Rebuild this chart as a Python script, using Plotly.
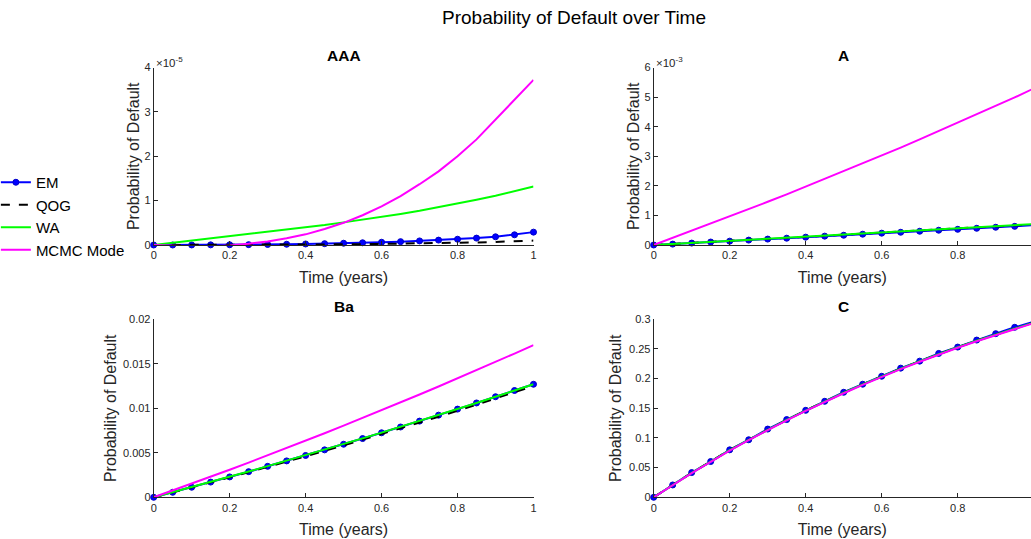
import plotly.graph_objects as go

t = [0.0, 0.05, 0.1, 0.15, 0.2, 0.25, 0.3, 0.35, 0.4, 0.45, 0.5,
     0.55, 0.6, 0.65, 0.7, 0.75, 0.8, 0.85, 0.9, 0.95, 1.0]

# AAA (x 1e-5)
aaa_em = [0, 0.0, 0.001, 0.003, 0.005, 0.008, 0.012, 0.017, 0.023, 0.03, 0.04,
          0.05, 0.062, 0.076, 0.092, 0.11, 0.13, 0.155, 0.185, 0.23, 0.29]
aaa_qog = [0, 0.0, 0.0, 0.001, 0.002, 0.003, 0.005, 0.007, 0.009, 0.012, 0.015,
           0.019, 0.023, 0.028, 0.034, 0.041, 0.049, 0.058, 0.069, 0.083, 0.10]
aaa_wa = [0, 0.05, 0.10, 0.15, 0.19, 0.24, 0.29, 0.34, 0.40, 0.45, 0.51,
          0.57, 0.63, 0.70, 0.77, 0.85, 0.93, 1.02, 1.11, 1.21, 1.32]
aaa_mcmc = [0, -0.02, -0.03, -0.03, -0.01, 0.03, 0.08, 0.15, 0.24, 0.36, 0.50,
            0.67, 0.87, 1.10, 1.37, 1.66, 2.00, 2.38, 2.82, 3.27, 3.72]

# A (x 1e-3)
a_em = [0, 0.03, 0.065, 0.10, 0.13, 0.165, 0.20, 0.23, 0.265, 0.30, 0.33,
        0.365, 0.40, 0.43, 0.465, 0.50, 0.53, 0.565, 0.60, 0.63, 0.67]
a_qog = [0, 0.034, 0.068, 0.10, 0.135, 0.17, 0.205, 0.24, 0.275, 0.31, 0.345,
         0.38, 0.415, 0.45, 0.485, 0.52, 0.555, 0.59, 0.625, 0.66, 0.70]
a_wa = [0, 0.034, 0.068, 0.103, 0.137, 0.172, 0.207, 0.242, 0.277, 0.312, 0.347,
        0.382, 0.417, 0.452, 0.488, 0.524, 0.56, 0.596, 0.632, 0.668, 0.705]
a_mcmc = [0, 0.24, 0.48, 0.72, 0.97, 1.21, 1.46, 1.71, 1.97, 2.23, 2.49,
          2.76, 3.02, 3.29, 3.57, 3.85, 4.13, 4.41, 4.70, 4.99, 5.29]

# Ba
ba_em = [0, 0.000561, 0.00113, 0.00171, 0.00229, 0.00288, 0.00348, 0.00409, 0.0047, 0.00533, 0.00596,
         0.0066, 0.00725, 0.0079, 0.00856, 0.00923, 0.00991, 0.0106, 0.0113, 0.0120, 0.0127]
ba_qog = [0, 0.000545, 0.0011, 0.00167, 0.00224, 0.00282, 0.0034, 0.004, 0.0046, 0.00521, 0.00583,
          0.00646, 0.0071, 0.00774, 0.00839, 0.00905, 0.00972, 0.0104, 0.0111, 0.0118, 0.0125]
ba_wa = [0, 0.000565, 0.00114, 0.00172, 0.0023, 0.0029, 0.0035, 0.00411, 0.00472, 0.00535, 0.00598,
         0.00662, 0.00727, 0.00792, 0.00858, 0.00925, 0.00993, 0.0106, 0.0113, 0.0120, 0.0127]
ba_mcmc = [0, 0.00076, 0.00153, 0.00231, 0.0031, 0.0039, 0.00471, 0.00553, 0.00636, 0.0072, 0.00805,
           0.00891, 0.00978, 0.01066, 0.01155, 0.01245, 0.01336, 0.01428, 0.01521, 0.01615, 0.0171]

# C
c_em = [0, 0.0208, 0.0417, 0.0603, 0.080, 0.097, 0.115, 0.131, 0.1466, 0.1618, 0.177,
        0.1906, 0.204, 0.2177, 0.2295, 0.2425, 0.2532, 0.265, 0.2758, 0.2865, 0.296]
c_qog = [0, 0.0207, 0.0412, 0.0603, 0.0795, 0.0968, 0.1142, 0.1305, 0.1462, 0.1615, 0.1762,
         0.1903, 0.2038, 0.2168, 0.2293, 0.2413, 0.2528, 0.2638, 0.2744, 0.2846, 0.2944]
c_wa = c_qog
c_mcmc = [0, 0.0205, 0.0408, 0.0598, 0.0788, 0.0962, 0.1135, 0.1298, 0.1455, 0.1607, 0.1754,
          0.1895, 0.2030, 0.2160, 0.2285, 0.2405, 0.2520, 0.2630, 0.2736, 0.2838, 0.2936]

titles = ["AAA", "A", "Ba", "C"]
series_names = ["EM", "QOG", "WA", "MCMC Mode"]

W, H = 1031, 539
FONT = "Liberation Sans, Arial, sans-serif"
AX = "#262626"

# pixel layout
left_x = (153.7 / W, 533.5 / W)
right_x = (653.7 / W, 1.0)
right_xmax = (W - 653.7) / 380.0
top_y = ((H - 245) / H, (H - 67.5) / H)
bot_y = ((H - 497.3) / H, (H - 319.3) / H)

panels = [
    dict(data=[aaa_em, aaa_qog, aaa_wa, aaa_mcmc], scale=1e-5, xd=left_x, yd=top_y,
         yticks=[0, 1, 2, 3, 4], ytext=["0", "1", "2", "3", "4"], yr=[0, 4], exp="-5", xr=[0, 1],
         ystand=0),
    dict(data=[a_em, a_qog, a_wa, a_mcmc], scale=1e-3, xd=right_x, yd=top_y,
         yticks=[0, 1, 2, 3, 4, 5, 6], ytext=["0", "1", "2", "3", "4", "5", "6"], yr=[0, 6], exp="-3",
         xr=[0, right_xmax], ystand=0),
    dict(data=[ba_em, ba_qog, ba_wa, ba_mcmc], scale=1, xd=left_x, yd=bot_y,
         yticks=[0, 0.005, 0.01, 0.015, 0.02], ytext=["0", "0.005", "0.01", "0.015", "0.02"],
         yr=[0, 0.02], exp=None, xr=[0, 1], ystand=2),
    dict(data=[c_em, c_qog, c_wa, c_mcmc], scale=1, xd=right_x, yd=bot_y,
         yticks=[0, 0.05, 0.1, 0.15, 0.2, 0.25, 0.3],
         ytext=["0", "0.05", "0.1", "0.15", "0.2", "0.25", "0.3"], yr=[0, 0.3], exp=None,
         xr=[0, right_xmax], ystand=3),
]

fig = go.Figure()
annotations = []
layout = {}
for i, p in enumerate(panels):
    n = "" if i == 0 else str(i + 1)
    xa, ya = "x" + n, "y" + n
    s = p["scale"]
    em, qog, wa, mc = p["data"]
    fig.add_trace(go.Scatter(x=t, y=[v * s for v in em], xaxis=xa, yaxis=ya, name="EM",
                             mode="lines+markers", line=dict(color="#0000FF", width=2),
                             marker=dict(color="#0000FF", size=6, line=dict(color="#0000C8", width=1)),
                             cliponaxis=False, showlegend=(i == 0), legendgroup="EM"))
    fig.add_trace(go.Scatter(x=t, y=[v * s for v in qog], xaxis=xa, yaxis=ya, name="QOG",
                             mode="lines", line=dict(color="#000000", width=2, dash="dash"),
                             showlegend=(i == 0), legendgroup="QOG"))
    fig.add_trace(go.Scatter(x=t, y=[v * s for v in wa], xaxis=xa, yaxis=ya, name="WA",
                             mode="lines", line=dict(color="#00FF00", width=2),
                             showlegend=(i == 0), legendgroup="WA"))
    fig.add_trace(go.Scatter(x=t, y=[v * s for v in mc], xaxis=xa, yaxis=ya, name="MCMC Mode",
                             mode="lines", line=dict(color="#FF00FF", width=2),
                             showlegend=(i == 0), legendgroup="MCMC"))
    common = dict(showline=True, linecolor=AX, linewidth=1, mirror=False, showgrid=False,
                  zeroline=False, ticks="inside", ticklen=4, tickcolor=AX, automargin=False,
                  tickfont=dict(family=FONT, size=11, color=AX))
    layout["xaxis" + n] = dict(domain=list(p["xd"]), range=p["xr"], anchor=ya,
                               tickvals=[0, 0.2, 0.4, 0.6, 0.8, 1.0],
                               ticktext=["0", "0.2", "0.4", "0.6", "0.8", "1"],
                               title=dict(text="Time (years)", font=dict(family=FONT, size=16, color=AX),
                                          standoff=11),
                               **common)
    layout["yaxis" + n] = dict(domain=list(p["yd"]), range=[p["yr"][0] * s, p["yr"][1] * s], anchor=xa,
                               tickvals=[v * s for v in p["yticks"]], ticktext=p["ytext"],
                               title=dict(text="Probability of Default",
                                          font=dict(family=FONT, size=16, color=AX), standoff=p["ystand"]),
                               **common)
    full_right = 533.5 / W if p["xd"] == left_x else 1033.7 / W
    annotations.append(dict(text="<b>" + titles[i] + "</b>", xref="paper", yref="paper",
                            x=(p["xd"][0] + full_right) / 2, y=p["yd"][1] + 2 / H,
                            xanchor="center", yanchor="bottom", showarrow=False,
                            font=dict(family=FONT, size=15.5, color="#000000")))
    if p["exp"]:
        annotations.append(dict(text="×10<sup>" + p["exp"] + "</sup>", xref="paper", yref="paper",
                                x=p["xd"][0], y=p["yd"][1] - 3 / H, xanchor="left",
                                yanchor="bottom", showarrow=False,
                                font=dict(family=FONT, size=11.5, color=AX)))

annotations.append(dict(text="Probability of Default over Time", xref="paper", yref="paper",
                        x=574 / W, y=1 - 5 / H, xanchor="center", yanchor="top", showarrow=False,
                        font=dict(family=FONT, size=19, color="#000000")))

fig.update_layout(
    width=W, height=H, margin=dict(l=0, r=0, t=0, b=0, autoexpand=False),
    paper_bgcolor="white", plot_bgcolor="white",
    annotations=annotations,
    legend=dict(x=-0.004, y=(H - 166) / H, xanchor="left", yanchor="top",
                bgcolor="rgba(0,0,0,0)", font=dict(family=FONT, size=15, color="#000000"),
                itemwidth=30, tracegroupgap=0),
    **layout,
)

fig.write_html("out.html")
